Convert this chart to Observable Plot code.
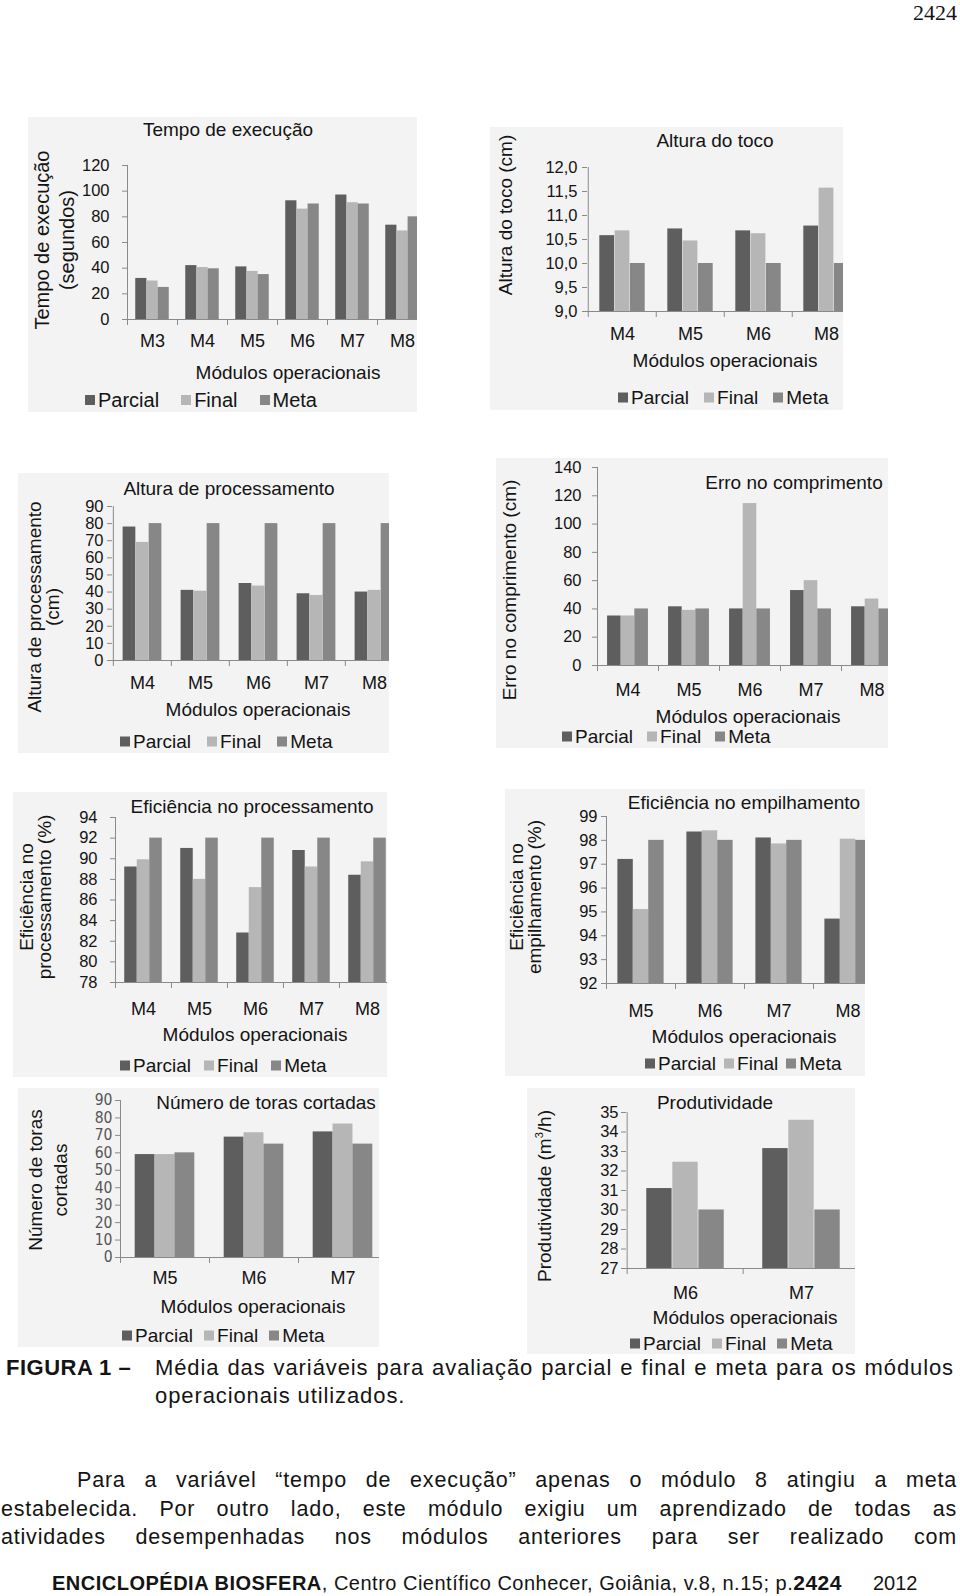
<!DOCTYPE html>
<html>
<head>
<meta charset="utf-8">
<script src="https://cdn.jsdelivr.net/npm/d3@7"></script>
<script src="https://cdn.jsdelivr.net/npm/@observablehq/plot@0.6"></script>
<style>
html, body { margin: 0; padding: 0; background: #fff; }
#page { position: relative; width: 960px; height: 1596px; overflow: hidden; font-family: "Liberation Sans", Arial, sans-serif; color: #141414; }
.box { position: absolute; overflow: hidden; background: #f3f3f3; }
.ctr { position: absolute; transform: translate(-50%, -50%); white-space: nowrap; line-height: 1.15; }
.ylab { position: absolute; transform: translate(-50%, -50%) rotate(-90deg); white-space: nowrap; text-align: center; }
.legend { position: absolute; display: flex; align-items: center; transform: translateY(-50%); white-space: nowrap; line-height: 1; }
.legend .it { display: inline-flex; align-items: center; }
.legend .sw { width: 10px; height: 10px; display: inline-block; margin-right: 3px; }
.txt { position: absolute; white-space: nowrap; }
.just { text-align: justify; text-align-last: justify; }
</style>
</head>
<body>
<div id="page"></div>
<script>
// ---------- data ----------
const series = ["Parcial", "Final", "Meta"];

const tempoModulos = ["M3", "M4", "M5", "M6", "M7", "M8"];
const tempoParcial = [32, 42, 41, 92.5, 97, 73.5];
const tempoFinal   = [30, 40.5, 37.5, 86, 91, 69];
const tempoMeta    = [25, 39.5, 35, 90, 90, 80];
const tempoTicks   = [0, 20, 40, 60, 80, 100, 120];

const tocoModulos = ["M4", "M5", "M6", "M8"];
const tocoParcial = [10.58, 10.72, 10.68, 10.78];
const tocoFinal   = [10.68, 10.47, 10.62, 11.57];
const tocoMeta    = [10, 10, 10, 10];
const tocoTicks   = [9, 9.5, 10, 10.5, 11, 11.5, 12];

const procModulos = ["M4", "M5", "M6", "M7", "M8"];
const procParcial = [78, 41, 45, 39, 40];
const procFinal   = [69, 40.5, 43.5, 38, 41];
const procMeta    = [80, 80, 80, 80, 80];
const procTicks   = [0, 10, 20, 30, 40, 50, 60, 70, 80, 90];

const erroModulos = ["M4", "M5", "M6", "M7", "M8"];
const erroParcial = [35, 41.5, 40, 53, 41.5];
const erroFinal   = [35, 39, 114.5, 60, 47];
const erroMeta    = [40, 40, 40, 40, 40];
const erroTicks   = [0, 20, 40, 60, 80, 100, 120, 140];

const efProcModulos = ["M4", "M5", "M6", "M7", "M8"];
const efProcParcial = [89.2, 91.0, 82.8, 90.8, 88.4];
const efProcFinal   = [89.9, 88.0, 87.2, 89.2, 89.7];
const efProcMeta    = [92, 92, 92, 92, 92];
const efProcTicks   = [78, 80, 82, 84, 86, 88, 90, 92, 94];

const efEmpModulos = ["M5", "M6", "M7", "M8"];
const efEmpParcial = [97.2, 98.35, 98.1, 94.7];
const efEmpFinal   = [95.1, 98.4, 97.85, 98.05];
const efEmpMeta    = [98, 98, 98, 98];
const efEmpTicks   = [92, 93, 94, 95, 96, 97, 98, 99];

const torasModulos = ["M5", "M6", "M7"];
const torasParcial = [59, 69, 72];
const torasFinal   = [59, 71.5, 76.5];
const torasMeta    = [60, 65, 65];
const torasTicks   = [0, 10, 20, 30, 40, 50, 60, 70, 80, 90];

const prodModulos = ["M6", "M7"];
const prodParcial = [31.1, 33.15];
const prodFinal   = [32.45, 34.6];
const prodMeta    = [30, 30];
const prodTicks   = [27, 28, 29, 30, 31, 32, 33, 34, 35];

// ---------- style ----------
const COLORS = ["#5e5e5e", "#b6b6b6", "#878787"];
const AXIS = "#8a8a8a";
const INK = "#141414";
const page = document.getElementById("page");

function el(parent, cls, css, html) {
  const d = document.createElement("div");
  if (cls) d.className = cls;
  Object.assign(d.style, css);
  if (html != null) d.innerHTML = html;
  parent.appendChild(d);
  return d;
}

function drawChart(c) {
  const [bx0, by0, bx1, by1] = c.box;
  const box = el(page, "box", {left: bx0 + "px", top: by0 + "px", width: (bx1 - bx0) + "px", height: (by1 - by0) + "px"});
  const n = c.modules.length, bw = c.bw;
  const ML = 80, MR = 10, MT = 12, MB = 40;
  const innerH = c.yBot - c.yTop;
  const data = c.modules.flatMap((m, i) => [
    {module: m, series: "Parcial", value: c.parcial[i]},
    {module: m, series: "Final", value: c.final[i]},
    {module: m, series: "Meta", value: c.meta[i]}
  ]);
  const frac = 0.67, off = (1 - frac) / 2, w = frac / 3;
  const y0 = c.domain[0], y1 = c.domain[1];
  const tickSize = 5;
  const xFs = 18;
  const svg = Plot.plot({
    width: ML + n * bw + MR,
    height: MT + innerH + MB,
    marginLeft: ML, marginRight: MR, marginTop: MT, marginBottom: MB,
    x: {domain: c.modules, padding: 0},
    y: {domain: c.domain},
    marks: [
      ...series.map((s, j) => Plot.barY(data.filter(d => d.series === s), {
        x: "module", y1: () => y0, y2: "value", fill: COLORS[j],
        insetLeft: (off + j * w) * bw, insetRight: (1 - off - (j + 1) * w) * bw
      })),
      Plot.ruleY([y0], {stroke: AXIS}),
      Plot.ruleX([c.modules[0]], {x: d => d, y1: () => y0, y2: () => y1, dx: -bw / 2, stroke: AXIS}),
      Plot.axisY({
        ticks: c.ticks, tickFormat: c.fmt || (d => String(d)),
        tickSize, tickPadding: c.x0 - c.yRight - tickSize,
        fontSize: c.tickFs || 16.5, stroke: AXIS, fill: c.tickColor || INK,
        fontFamily: c.tickFont || "Liberation Sans, Arial, sans-serif", label: null
      }),
      Plot.axisX({tickSize: 0, tickPadding: c.xlabY - c.yBot - 0.352 * xFs, fontSize: xFs, fill: INK, label: null,
        fontFamily: "Liberation Sans, Arial, sans-serif"}),
      Plot.axisX({tickSize: 6, tickFormat: () => "", dx: -bw / 2, stroke: AXIS, label: null})
    ]
  });
  Object.assign(svg.style, {
    position: "absolute", left: (c.x0 - ML - bx0) + "px", top: (c.yTop - MT - by0) + "px",
    maxWidth: "none", background: "transparent", overflow: "visible",
    fontFamily: "Liberation Sans, Arial, sans-serif", color: INK
  });
  box.appendChild(svg);

  el(box, "ctr", {left: (c.title.x - bx0) + "px", top: (c.title.y - by0) + "px", fontSize: (c.title.fs || 19) + "px"}, c.title.t);
  el(box, "ylab", {left: (c.ylab.x - bx0) + "px", top: (c.ylab.y - by0) + "px", fontSize: (c.ylab.fs || 19) + "px",
    lineHeight: (c.ylab.lh || 22) + "px"}, c.ylab.lines.join("<br>"));
  el(box, "ctr", {left: (c.xlab.x - bx0) + "px", top: (c.xlab.y - by0) + "px", fontSize: "19px"}, "Módulos operacionais");
  const lg = el(box, "legend", {left: (c.legend.x - bx0) + "px", top: (c.legend.y - by0) + "px",
    fontSize: (c.legend.fs || 19) + "px", columnGap: c.legend.gap + "px"});
  series.forEach((s, j) => {
    el(lg, "it", {}, `<span class="sw" style="background:${COLORS[j]}"></span>${s}`);
  });
}

const comma1 = d => d.toFixed(1).replace(".", ",");

const charts = [
  {modules: tempoModulos, parcial: tempoParcial, final: tempoFinal, meta: tempoMeta, ticks: tempoTicks,
   domain: [0, 120], box: [28, 117, 417, 412], x0: 127, bw: 50, yTop: 165, yBot: 319, yRight: 109, xlabY: 340,
   title: {t: "Tempo de execução", x: 228, y: 130}, ylab: {lines: ["Tempo de execução", "(segundos)"], x: 54.5, y: 240, fs: 20, lh: 25},
   xlab: {x: 288, y: 373}, legend: {x: 85, y: 400, gap: 22, fs: 20}},
  {modules: tocoModulos, parcial: tocoParcial, final: tocoFinal, meta: tocoMeta, ticks: tocoTicks, fmt: comma1,
   domain: [9, 12], box: [490, 127, 843, 410], x0: 587, bw: 68.5, yTop: 167, yBot: 311, yRight: 577, xlabY: 333,
   title: {t: "Altura do toco", x: 715, y: 141}, ylab: {lines: ["Altura do toco (cm)"], x: 506, y: 215},
   xlab: {x: 725, y: 361}, legend: {x: 618, y: 397, gap: 15}},
  {modules: procModulos, parcial: procParcial, final: procFinal, meta: procMeta, ticks: procTicks,
   domain: [0, 90], box: [18, 473, 389, 753], x0: 112, bw: 58.3, yTop: 506, yBot: 660, yRight: 103, xlabY: 682,
   title: {t: "Altura de processamento", x: 229, y: 489}, ylab: {lines: ["Altura de processamento", "(cm)"], x: 44, y: 607, lh: 18},
   xlab: {x: 258, y: 710}, legend: {x: 120, y: 741, gap: 16}},
  {modules: erroModulos, parcial: erroParcial, final: erroFinal, meta: erroMeta, ticks: erroTicks,
   domain: [0, 140], box: [496, 458, 888, 748], x0: 597, bw: 61, yTop: 467, yBot: 665, yRight: 581, xlabY: 689,
   title: {t: "Erro no comprimento", x: 794, y: 483}, ylab: {lines: ["Erro no comprimento (cm)"], x: 510, y: 590},
   xlab: {x: 748, y: 717}, legend: {x: 562, y: 736, gap: 14}},
  {modules: efProcModulos, parcial: efProcParcial, final: efProcFinal, meta: efProcMeta, ticks: efProcTicks,
   domain: [78, 94], box: [13, 792, 387, 1077], x0: 115, bw: 56, yTop: 817, yBot: 982, yRight: 97, xlabY: 1008,
   title: {t: "Eficiência no processamento", x: 252, y: 807}, ylab: {lines: ["Eficiência no", "processamento (%)"], x: 36, y: 897, lh: 18},
   xlab: {x: 255, y: 1035}, legend: {x: 120, y: 1065, gap: 13}},
  {modules: efEmpModulos, parcial: efEmpParcial, final: efEmpFinal, meta: efEmpMeta, ticks: efEmpTicks,
   domain: [92, 99], box: [505, 789, 865, 1076], x0: 606, bw: 69, yTop: 816, yBot: 983, yRight: 597, xlabY: 1010,
   title: {t: "Eficiência no empilhamento", x: 744, y: 803}, ylab: {lines: ["Eficiência no", "empilhamento (%)"], x: 526, y: 897, lh: 18},
   xlab: {x: 744, y: 1037}, legend: {x: 645, y: 1063, gap: 8}},
  {modules: torasModulos, parcial: torasParcial, final: torasFinal, meta: torasMeta, ticks: torasTicks,
   domain: [0, 90], box: [18, 1088, 379, 1347], x0: 120, bw: 89, yTop: 1100, yBot: 1257, yRight: 112, xlabY: 1277,
   tickFs: 15.5, tickColor: "#555", tickFont: "Liberation Sans Narrow, DejaVu Sans Condensed, sans-serif",
   title: {t: "Número de toras cortadas", x: 266, y: 1103}, ylab: {lines: ["Número de toras", "cortadas"], x: 47.5, y: 1180, lh: 25},
   xlab: {x: 253, y: 1307}, legend: {x: 122, y: 1335, gap: 11}},
  {modules: prodModulos, parcial: prodParcial, final: prodFinal, meta: prodMeta, ticks: prodTicks,
   domain: [27, 35], box: [527, 1088, 855, 1354], x0: 626, bw: 116.7, yTop: 1112, yBot: 1268, yRight: 618, xlabY: 1292,
   title: {t: "Produtividade", x: 715, y: 1103}, ylab: {lines: ["Produtividade (m<sup style=\"font-size:11px\">3</sup>/h)"], x: 542, y: 1196},
   xlab: {x: 745, y: 1318}, legend: {x: 630, y: 1343, gap: 11}}
];

charts.forEach(drawChart);

// ---------- page text ----------
el(page, "txt", {right: "3px", top: "2px", fontFamily: "Liberation Serif, Times New Roman, serif", fontSize: "22px", lineHeight: "22px"}, "2424");

el(page, "txt", {left: "6px", top: "1353.5px", fontSize: "22px", lineHeight: "28px", fontWeight: "bold", letterSpacing: "0.5px"}, "FIGURA 1 –");
el(page, "txt just", {left: "155px", top: "1353.5px", width: "799px", fontSize: "22px", lineHeight: "28px", letterSpacing: "0.9px"},
  "Média das variáveis para avaliação parcial e final e meta para os módulos");
el(page, "txt", {left: "155px", top: "1381.5px", fontSize: "22px", lineHeight: "28px", letterSpacing: "0.9px"}, "operacionais utilizados.");

el(page, "txt just", {left: "77px", top: "1466.3px", width: "880px", fontSize: "21.5px", lineHeight: "28.5px", letterSpacing: "0.8px"},
  "Para a variável “tempo de execução” apenas o módulo 8 atingiu a meta");
el(page, "txt just", {left: "1px", top: "1494.8px", width: "956px", fontSize: "21.5px", lineHeight: "28.5px", letterSpacing: "0.8px"},
  "estabelecida. Por outro lado, este módulo exigiu um aprendizado de todas as");
el(page, "txt just", {left: "1px", top: "1523.3px", width: "956px", fontSize: "21.5px", lineHeight: "28.5px", letterSpacing: "0.8px"},
  "atividades desempenhadas nos módulos anteriores para ser realizado com");

el(page, "txt", {left: "52px", top: "1573px", fontSize: "20px", lineHeight: "20px", letterSpacing: "0.5px"},
  "<b>ENCICLOPÉDIA BIOSFERA</b>, Centro Científico Conhecer, Goiânia, v.8, n.15; p.<b style=\"font-size:21px\">2424</b>");
el(page, "txt", {left: "873px", top: "1573px", fontSize: "20px", lineHeight: "20px"}, "2012");
</script>
</body>
</html>
